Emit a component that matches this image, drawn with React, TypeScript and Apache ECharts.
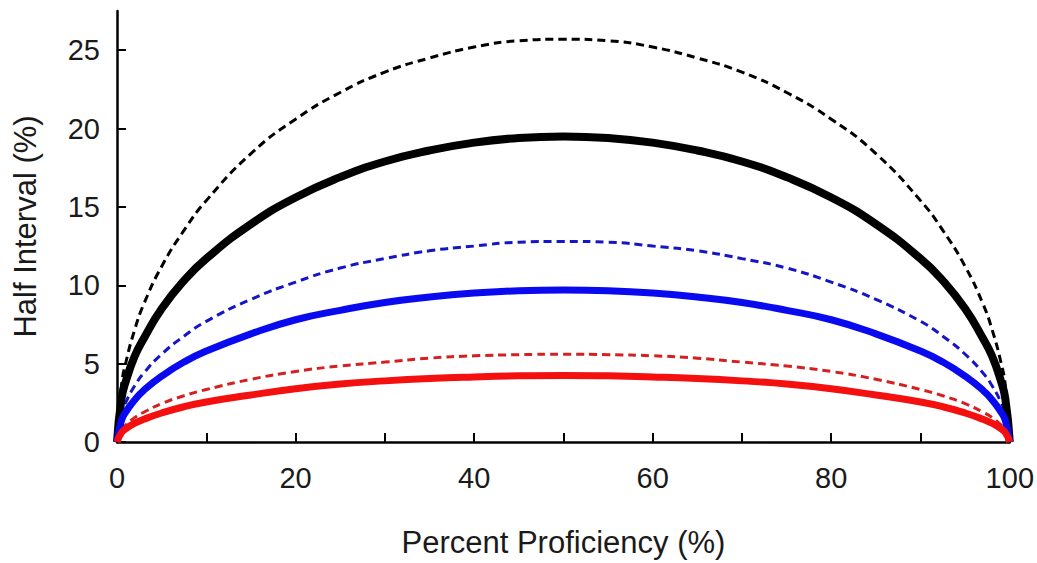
import React, { useEffect, useRef } from "react";
import * as echarts from "echarts";

const proficiency = [0, 0.5, 1, 2, 3, 5, 7.5, 10, 15, 20, 25, 30, 35, 40, 45, 50, 55, 60, 65, 70, 75, 80, 85, 90, 92.5, 95, 97, 98, 99, 99.5, 100];

const blackDashed = [0, 3.6, 5.1, 7.2, 8.8, 11.2, 13.5, 15.4, 18.4, 20.6, 22.3, 23.6, 24.5, 25.2, 25.6, 25.7, 25.6, 25.2, 24.5, 23.6, 22.3, 20.6, 18.4, 15.4, 13.5, 11.2, 8.8, 7.2, 5.1, 3.6, 0];
const blackSolid = [0, 2.75, 3.9, 5.5, 6.6, 8.5, 10.3, 11.7, 13.9, 15.6, 16.9, 17.9, 18.6, 19.1, 19.4, 19.5, 19.4, 19.1, 18.6, 17.9, 16.9, 15.6, 13.9, 11.7, 10.3, 8.5, 6.6, 5.5, 3.9, 2.75, 0];
const blueDashed = [0, 1.8, 2.55, 3.6, 4.4, 5.6, 6.75, 7.7, 9.1, 10.2, 11.1, 11.7, 12.2, 12.5, 12.75, 12.8, 12.75, 12.5, 12.2, 11.7, 11.1, 10.2, 9.1, 7.7, 6.75, 5.6, 4.4, 3.6, 2.55, 1.8, 0];
const blueSolid = [0, 1.37, 1.93, 2.7, 3.3, 4.2, 5.1, 5.8, 6.9, 7.8, 8.4, 8.9, 9.25, 9.5, 9.65, 9.7, 9.65, 9.5, 9.25, 8.9, 8.4, 7.8, 6.9, 5.8, 5.1, 4.2, 3.3, 2.7, 1.93, 1.37, 0];
const redDashed = [0, 0.8, 1.1, 1.57, 1.9, 2.45, 2.95, 3.35, 4.0, 4.5, 4.85, 5.1, 5.35, 5.5, 5.57, 5.6, 5.57, 5.5, 5.35, 5.1, 4.85, 4.5, 4.0, 3.35, 2.95, 2.45, 1.9, 1.57, 1.1, 0.8, 0];
const redSolid = [0, 0.6, 0.85, 1.2, 1.45, 1.85, 2.25, 2.55, 3.0, 3.4, 3.7, 3.9, 4.05, 4.15, 4.22, 4.25, 4.22, 4.15, 4.05, 3.9, 3.7, 3.4, 3.0, 2.55, 2.25, 1.85, 1.45, 1.2, 0.85, 0.6, 0];

const xTicks = [0, 10, 20, 30, 40, 50, 60, 70, 80, 90, 100];
const xLabels = [0, 20, 40, 60, 80, 100];
const yTicks = [0, 5, 10, 15, 20, 25];

const pair = (ys: number[]) => proficiency.map((x, i) => [x, ys[i]]);

export default function App() {
  const ref = useRef<HTMLDivElement>(null);
  useEffect(() => {
    document.body.style.margin = "0";
    const chart = echarts.init(ref.current!, null, { renderer: "svg" });
    const font = "'Liberation Sans', Arial, sans-serif";
    const line = (name: string, data: number[], color: string, dashed: boolean, z: number, w = 7) => ({
      name,
      type: "line",
      data: pair(data),
      smooth: true,
      showSymbol: false,
      symbol: "none",
      z,
      lineStyle: dashed
        ? { color, width: 3, type: [8, 5] }
        : { color, width: w },
    });
    chart.setOption({
      animation: false,
      backgroundColor: "#ffffff",
      grid: { left: 117, right: 25, top: 11, bottom: 121, containLabel: false },
      xAxis: {
        type: "value",
        min: 0,
        max: 100,
        interval: 10,
        name: "Percent Proficiency (%)",
        nameLocation: "middle",
        nameGap: 85,
        nameTextStyle: { fontSize: 31, color: "#1a1a1a", fontFamily: font },
        axisLine: { lineStyle: { color: "#000", width: 2.5 } },
        axisTick: { inside: true, length: 9, lineStyle: { color: "#000", width: 2 }, customValues: xTicks },
        axisLabel: { fontSize: 29, color: "#1a1a1a", margin: 21, fontFamily: font, customValues: xLabels },
        splitLine: { show: false },
      },
      yAxis: {
        type: "value",
        min: 0,
        max: 27.5,
        interval: 5,
        name: "Half Interval (%)",
        nameLocation: "middle",
        nameGap: 76,
        nameRotate: 90,
        nameTextStyle: { fontSize: 31, color: "#1a1a1a", fontFamily: font },
        axisLine: { show: true, lineStyle: { color: "#000", width: 2.5 } },
        axisTick: { show: true, inside: true, length: 9, lineStyle: { color: "#000", width: 2 }, customValues: yTicks },
        axisLabel: { fontSize: 29, color: "#1a1a1a", margin: 17, fontFamily: font, customValues: yTicks },
        splitLine: { show: false },
      },
      series: [
        line("blackDashed", blackDashed, "#000000", true, 2),
        line("blackSolid", blackSolid, "#000000", false, 3, 8),
        line("blueDashed", blueDashed, "#1515c8", true, 2),
        line("blueSolid", blueSolid, "#0a0af0", false, 3),
        line("redDashed", redDashed, "#d42020", true, 2),
        line("redSolid", redSolid, "#f51010", false, 4),
      ],
    });
    return () => chart.dispose();
  }, []);
  return <div ref={ref} style={{ width: 1037, height: 563 }} />;
}
